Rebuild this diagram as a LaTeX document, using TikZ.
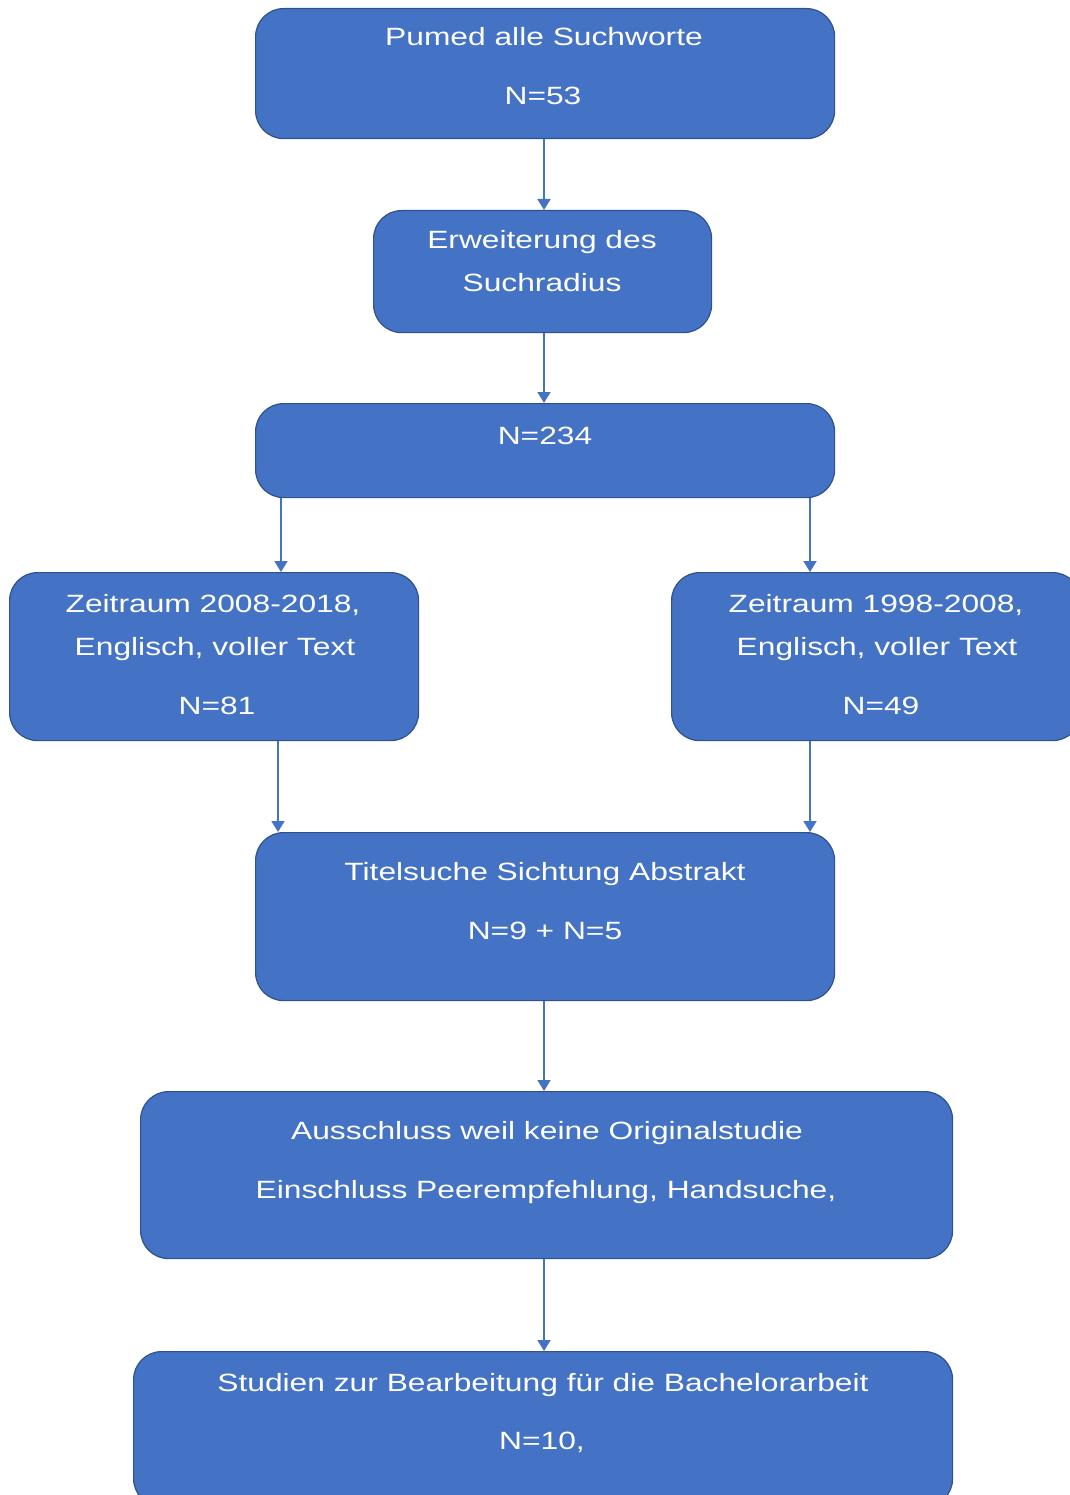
\documentclass[tikz,border=0pt]{standalone}
\usepackage{fontspec}
\setmainfont[FakeStretch=1.27]{Liberation Sans}
\usetikzlibrary{arrows.meta}
\definecolor{boxfill}{HTML}{4472C4}
\definecolor{boxedge}{HTML}{2F528F}
\definecolor{arrcol}{HTML}{4472C4}
\tikzset{
  box/.style={draw=boxedge, fill=boxfill, rounded corners=28pt, line width=1.2pt, inner sep=0pt, anchor=north west},
  txt/.style={text=white, inner sep=0pt, anchor=base, font=\fontsize{25pt}{30pt}\selectfont},
  arr/.style={draw=arrcol, line width=1.8pt, -{Triangle[width=13pt,length=11pt]}}
}
\begin{document}
\begin{tikzpicture}[x=1pt,y=-1pt]
\useasboundingbox (0,0) rectangle (1069,1495);
% boxes
\node[box, minimum width=579pt, minimum height=130pt] (b1) at (255,8) {};
\node[box, minimum width=338pt, minimum height=122pt] (b2) at (373,210) {};
\node[box, minimum width=579pt, minimum height=94pt] (b3) at (255,403) {};
\node[box, minimum width=409pt, minimum height=168pt] (bl) at (9,572) {};
\node[box, minimum width=409pt, minimum height=168pt] (br) at (671,572) {};
\node[box, minimum width=579pt, minimum height=168pt] (b4) at (255,832) {};
\node[box, minimum width=812pt, minimum height=167pt] (b5) at (140,1091) {};
\node[box, minimum width=819pt, minimum height=155pt] (b6) at (133,1351) {};
% texts
\node[txt] (t1a) at (544,46) {Pumed alle Suchworte};
\node[txt] (t1b) at (543,105) {N=53};
\node[txt] (t2a) at (542,249) {Erweiterung des};
\node[txt] (t2b) at (542,291) {Suchradius};
\node[txt] (t3a) at (545,444) {N=234};
\node[txt] (tla) at (213,612) {Zeitraum 2008-2018,};
\node[txt] (tlb) at (215,655) {Englisch, voller Text};
\node[txt] (tlc) at (217,714) {N=81};
\node[txt] (tra) at (876,612) {Zeitraum 1998-2008,};
\node[txt] (trb) at (877,655) {Englisch, voller Text};
\node[txt] (trc) at (881,714) {N=49};
\node[txt] (t4a) at (545,880) {Titelsuche Sichtung Abstrakt};
\node[txt] (t4b) at (545,939) {N=9 + N=5};
\node[txt] (t5a) at (547,1139) {Ausschluss weil keine Originalstudie};
\node[txt] (t5b) at (546,1198) {Einschluss Peerempfehlung, Handsuche,};
\node[txt] (t6a) at (543,1391) {Studien zur Bearbeitung für die Bachelorarbeit};
\node[txt] (t6b) at (542,1449) {N=10,};
% arrows
\draw[arr] ([xshift=289pt]b1.south west) -- ([xshift=171pt]b2.north west);
\draw[arr] ([xshift=171pt]b2.south west) -- ([xshift=289pt]b3.north west);
\draw[arr] ([xshift=26pt]b3.south west) -- ([xshift=272pt]bl.north west);
\draw[arr] ([xshift=555pt]b3.south west) -- ([xshift=139pt]br.north west);
\draw[arr] ([xshift=269pt]bl.south west) -- ([xshift=23pt]b4.north west);
\draw[arr] ([xshift=139pt]br.south west) -- ([xshift=555pt]b4.north west);
\draw[arr] ([xshift=289pt]b4.south west) -- ([xshift=404pt]b5.north west);
\draw[arr] ([xshift=404pt]b5.south west) -- ([xshift=411pt]b6.north west);
\end{tikzpicture}
\end{document}
